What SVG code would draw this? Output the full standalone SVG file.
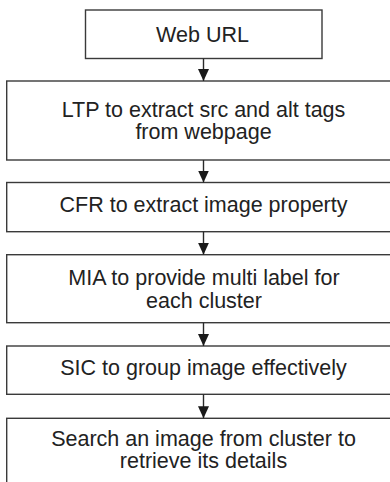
<svg xmlns="http://www.w3.org/2000/svg" width="390" height="482" viewBox="0 0 390 482">
  <defs>
    <style>
      .box { fill: #ffffff; stroke: #3a3a3a; stroke-width: 1.4; }
      .lbl { font-family: "Liberation Sans", Arial, sans-serif; font-size: 21.5px; fill: #222222; text-anchor: middle; }
      .edge { stroke: #2a2a2a; stroke-width: 1.4; fill: none; }
    </style>
    <marker id="arrow" viewBox="0 0 12 11" refX="12" refY="5.5" markerWidth="12" markerHeight="11" markerUnits="userSpaceOnUse" orient="auto">
      <path d="M0,0 L12,5.5 L0,11 Z" fill="#1a1a1a"/>
    </marker>
  </defs>
  <rect width="390" height="482" fill="#ffffff"/>

  <g id="n1">
    <rect class="box" x="85.5" y="10" width="236.5" height="48.5"/>
    <text class="lbl" x="202.5" y="41.7">Web URL</text>
  </g>
  <g id="n2">
    <rect class="box" x="6.7" y="81" width="400" height="79"/>
    <text class="lbl" x="203.5" y="116.7">LTP to extract src and alt tags</text>
    <text class="lbl" x="203.5" y="139">from webpage</text>
  </g>
  <g id="n3">
    <rect class="box" x="6.7" y="182.5" width="400" height="49.2"/>
    <text class="lbl" x="203.5" y="212">CFR to extract image property</text>
  </g>
  <g id="n4">
    <rect class="box" x="6.7" y="254.7" width="400" height="68"/>
    <text class="lbl" x="204" y="285">MIA to provide multi label for</text>
    <text class="lbl" x="204" y="308.3">each cluster</text>
  </g>
  <g id="n5">
    <rect class="box" x="6.7" y="346" width="400" height="48.3"/>
    <text class="lbl" x="203.5" y="375">SIC to group image effectively</text>
  </g>
  <g id="n6">
    <rect class="box" x="6.7" y="418.3" width="400" height="80"/>
    <text class="lbl" x="203.5" y="446">Search an image from cluster to</text>
    <text class="lbl" x="203.5" y="468.3">retrieve its details</text>
  </g>

  <g id="connectors">
    <line class="edge" x1="203.5" y1="58.5" x2="203.5" y2="81" marker-end="url(#arrow)"/>
    <line class="edge" x1="203.5" y1="160" x2="203.5" y2="182.5" marker-end="url(#arrow)"/>
    <line class="edge" x1="203.5" y1="231.7" x2="203.5" y2="254.7" marker-end="url(#arrow)"/>
    <line class="edge" x1="203.5" y1="322.7" x2="203.5" y2="346" marker-end="url(#arrow)"/>
    <line class="edge" x1="203.5" y1="394.3" x2="203.5" y2="418.3" marker-end="url(#arrow)"/>
  </g>
</svg>
